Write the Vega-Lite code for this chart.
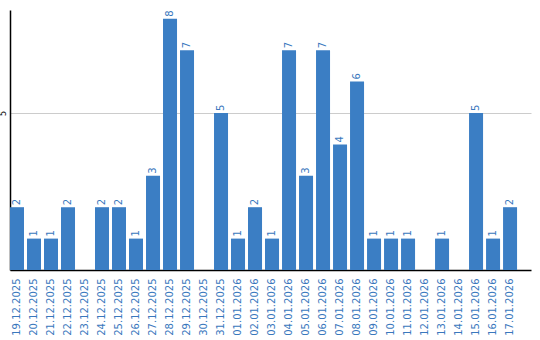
{
  "$schema": "https://vega.github.io/schema/vega-lite/v6.json",
  "autosize": {"type": "none"},
  "padding": {"left": 10, "top": 10, "right": 9, "bottom": 70},
  "width": 521,
  "height": 260,
  "background": "white",
  "config": {"view": {"stroke": null}, "font": "DejaVu Sans"},
  "data": {"values": [
    {"d": "19.12.2025", "v": 2}, {"d": "20.12.2025", "v": 1}, {"d": "21.12.2025", "v": 1},
    {"d": "22.12.2025", "v": 2}, {"d": "23.12.2025", "v": 0}, {"d": "24.12.2025", "v": 2},
    {"d": "25.12.2025", "v": 2}, {"d": "26.12.2025", "v": 1}, {"d": "27.12.2025", "v": 3},
    {"d": "28.12.2025", "v": 8}, {"d": "29.12.2025", "v": 7}, {"d": "30.12.2025", "v": 0},
    {"d": "31.12.2025", "v": 5}, {"d": "01.01.2026", "v": 1}, {"d": "02.01.2026", "v": 2},
    {"d": "03.01.2026", "v": 1}, {"d": "04.01.2026", "v": 7}, {"d": "05.01.2026", "v": 3},
    {"d": "06.01.2026", "v": 7}, {"d": "07.01.2026", "v": 4}, {"d": "08.01.2026", "v": 6},
    {"d": "09.01.2026", "v": 1}, {"d": "10.01.2026", "v": 1}, {"d": "11.01.2026", "v": 1},
    {"d": "12.01.2026", "v": 0}, {"d": "13.01.2026", "v": 1}, {"d": "14.01.2026", "v": 0},
    {"d": "15.01.2026", "v": 5}, {"d": "16.01.2026", "v": 1}, {"d": "17.01.2026", "v": 2}
  ]},
  "encoding": {
    "x": {"field": "d", "type": "nominal", "sort": null,
      "scale": {"paddingInner": 0.176, "paddingOuter": 0.41, "align": 0},
      "axis": {"title": null, "labelAngle": -90, "labelAlign": "right", "labelBaseline": "middle",
        "labelColor": "#3a78bd", "labelFontSize": 10, "labelPadding": 8, "ticks": false,
        "domainColor": "#000000", "domainWidth": 1.5, "labelFont": "DejaVu Sans"}},
    "y": {"field": "v", "type": "quantitative",
      "scale": {"domain": [0, 8.28], "nice": false, "zero": true},
      "axis": {"title": null, "values": [5], "grid": true, "gridColor": "#cccccc", "gridWidth": 1,
        "labelAngle": -90, "labelAlign": "center", "labelBaseline": "bottom", "labelFontSize": 8,
        "labelPadding": 3, "ticks": false, "domainColor": "#000000", "domainWidth": 1.5,
        "labelColor": "#000000"}}
  },
  "layer": [
    {"mark": {"type": "bar", "color": "#3b7ec4"}},
    {"transform": [{"filter": "datum.v > 0"}],
     "mark": {"type": "text", "angle": -90, "align": "left", "baseline": "middle", "dx": 2,
       "fontSize": 10, "color": "#3a78bd", "font": "DejaVu Sans"},
     "encoding": {"text": {"field": "v", "type": "quantitative"}}}
  ]
}
